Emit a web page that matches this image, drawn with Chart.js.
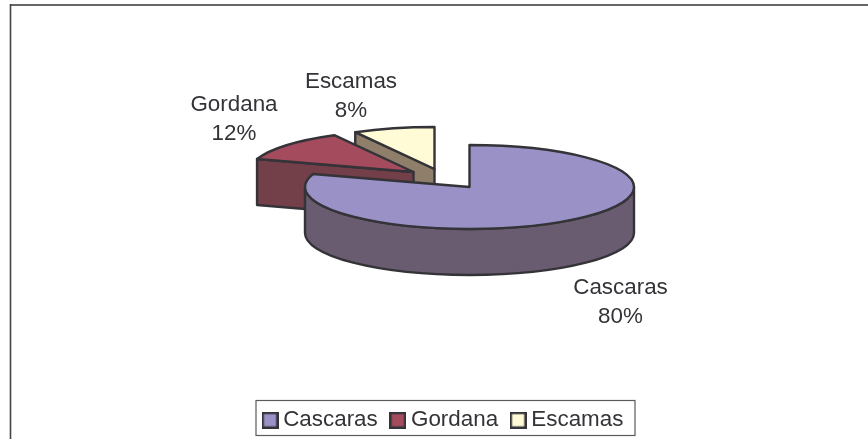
<!DOCTYPE html>
<html><head><meta charset="utf-8">
<script src="https://cdn.jsdelivr.net/npm/chart.js@4/dist/chart.umd.js"></script>
<style>html,body{margin:0;padding:0;background:#fff}canvas{display:block}</style>
</head><body><canvas id="c" width="868" height="439"></canvas>
<script>
const categories = ['Cascaras', 'Gordana', 'Escamas'];
const seriesValues = [80, 12, 8];

const topColors = ['#9A91C6', '#A44B5E', '#FFFBD6'];
const wallColors = ['#6A5C70', '#733F48', '#8E7E6A'];
const explodeX = [0, -56, -35];
const explodeY = [0, -15, -18];
const labelX = [620.5, 234, 351];
const labelY = [288, 105, 81.5];
const drawOrder = [2, 1, 0];
const pieCenterX = 469.5, pieCenterY = 187, pieRadiusX = 164.5, pieRadiusY = 42, pieDepth = 46;
const ink = '#333338', textInk = '#333338';
const FONT = '"Liberation Sans", Arial, sans-serif';
const fontSize = 22.4;

function keyCanvas(color) {
  const k = document.createElement('canvas');
  k.width = 17; k.height = 17;
  const g = k.getContext('2d');
  g.fillStyle = color; g.fillRect(1, 1, 15, 15);
  g.strokeStyle = ink; g.lineWidth = 2.4; g.strokeRect(1.2, 1.2, 14.6, 14.6);
  return k;
}

const pie3d = {
  id: 'pie3d',
  beforeDraw(chart) {
    const ctx = chart.ctx;
    ctx.save();
    ctx.strokeStyle = '#666669'; ctx.lineWidth = 2;
    ctx.beginPath(); ctx.moveTo(10, 5); ctx.lineTo(868, 5); ctx.stroke();
    ctx.strokeStyle = '#444448'; ctx.lineWidth = 1.6;
    ctx.beginPath(); ctx.moveTo(10.5, 4); ctx.lineTo(10.5, 439); ctx.stroke();
    ctx.fillStyle = '#fff'; ctx.lineWidth = 1.2; ctx.strokeStyle = '#5a5a5f';
    ctx.fillRect(256, 400, 379, 35); ctx.strokeRect(256, 400.5, 379, 35);
    ctx.restore();
    const lg = chart.legend;
    lg.left = 250; lg.right = 650; lg.top = 391;
  },
  beforeDatasetsDraw(chart) {
    const ctx = chart.ctx;
    const arcs = chart.getDatasetMeta(0).data;
    const total = seriesValues.reduce((a, b) => a + b, 0);
    const strokeIt = () => { ctx.strokeStyle = ink; ctx.lineWidth = 2.4; ctx.lineJoin = 'round'; ctx.fill(); ctx.stroke(); };
    drawOrder.forEach(i => {
      const p = arcs[i].getProps(['startAngle', 'endAngle'], true);
      const s = p.startAngle, e = p.endAngle;
      const cx = pieCenterX + explodeX[i], cy = pieCenterY + explodeY[i];
      const pt = a => [cx + pieRadiusX * Math.cos(a), cy + pieRadiusY * Math.sin(a)];
      ctx.save();
      ctx.fillStyle = wallColors[i];
      [[s, Math.cos(s) < -1e-6], [e, Math.cos(e) > 1e-6]].forEach(([a, vis]) => {
        if (!vis) return;
        const q = pt(a);
        ctx.beginPath(); ctx.moveTo(cx, cy); ctx.lineTo(q[0], q[1]); ctx.lineTo(q[0], q[1] + pieDepth); ctx.lineTo(cx, cy + pieDepth); ctx.closePath();
        strokeIt();
      });
      const a0 = Math.max(s, 0), a1 = Math.min(e, Math.PI);
      if (a1 > a0) {
        ctx.beginPath();
        ctx.ellipse(cx, cy, pieRadiusX, pieRadiusY, 0, a0, a1);
        ctx.ellipse(cx, cy + pieDepth, pieRadiusX, pieRadiusY, 0, a1, a0, true);
        ctx.closePath();
        strokeIt();
      }
      ctx.fillStyle = topColors[i];
      ctx.beginPath(); ctx.moveTo(cx, cy);
      ctx.ellipse(cx, cy, pieRadiusX, pieRadiusY, 0, s, e);
      ctx.closePath();
      strokeIt();
      ctx.restore();
    });
    ctx.save();
    ctx.fillStyle = textInk; ctx.font = fontSize + 'px ' + FONT;
    ctx.textAlign = 'center'; ctx.textBaseline = 'middle';
    arcs.forEach((a, i) => {
      ctx.fillText(categories[i], labelX[i], labelY[i]);
      ctx.fillText(Math.round(seriesValues[i] / total * 100) + '%', labelX[i], labelY[i] + 29);
    });
    ctx.restore();
    return false;
  }
};

new Chart(document.getElementById('c'), {
  type: 'pie',
  data: { labels: categories, datasets: [{ data: seriesValues, backgroundColor: topColors, borderColor: ink }] },
  options: {
    responsive: false, animation: false,
    plugins: {
      tooltip: { enabled: false },
      legend: {
        position: 'bottom', align: 'start',
        labels: {
          color: textInk, font: { family: FONT, size: fontSize }, padding: 18, boxWidth: 4, usePointStyle: true,
          generateLabels: () => categories.map((t, i) => ({ text: t, fillStyle: topColors[i], strokeStyle: ink, lineWidth: 0, pointStyle: keyCanvas(topColors[i]), index: i, fontColor: textInk, hidden: false }))
        }
      }
    }
  },
  plugins: [pie3d]
});
</script></body></html>
